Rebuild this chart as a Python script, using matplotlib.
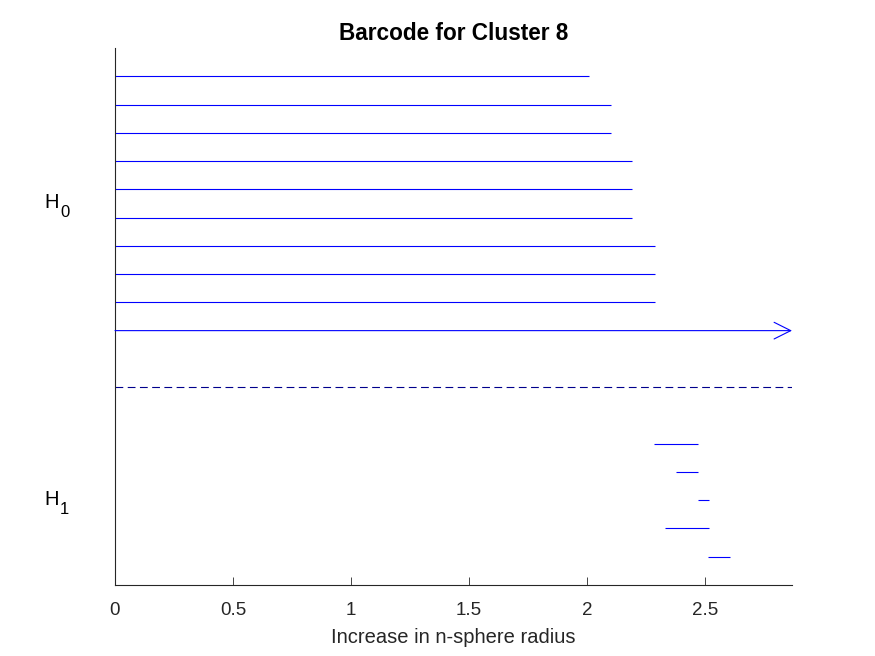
import numpy as np
import matplotlib
matplotlib.use("Agg")
import matplotlib.pyplot as plt

plt.rcParams['font.family'] = ['Liberation Sans', 'DejaVu Sans']

title = "Barcode for Cluster 8"
xlabel = "Increase in n-sphere radius"
xticks = [0, 0.5, 1, 1.5, 2, 2.5]
xticklabels = ["0", "0.5", "1", "1.5", "2", "2.5"]
x_max = 2.869

h0_birth = [0, 0, 0, 0, 0, 0, 0, 0, 0, 0]
h0_death = [2.01, 2.10, 2.10, 2.193, 2.193, 2.193, 2.287, 2.287, 2.287, np.inf]

h1_birth = [2.285, 2.377, 2.470, 2.331, 2.515]
h1_death = [2.470, 2.470, 2.517, 2.517, 2.607]

dark = (0.15, 0.15, 0.15)
fig = plt.figure(figsize=(8.75, 6.56), dpi=100)
ax = fig.add_axes([115/875, 1-585/656, (792-115)/875, (585-48)/656])

n0 = len(h0_birth)
n1 = len(h1_birth)
rows0 = np.arange(1, n0 + 1)
sep = n0 + 2
rows1 = np.arange(sep + 2, sep + 2 + n1)
ymax = rows1[-1] + 1

for b, d, r in zip(h0_birth, h0_death, rows0):
    if np.isinf(d):
        ax.annotate('', xy=(x_max, r), xytext=(b, r),
                    arrowprops=dict(arrowstyle='->', color='blue', lw=0.8,
                                    mutation_scale=30, shrinkA=0, shrinkB=0),
                    annotation_clip=False)
    else:
        ax.plot([b, d], [r, r], color='blue', lw=0.8, solid_capstyle='butt')

for b, d, r in zip(h1_birth, h1_death, rows1):
    ax.plot([b, d], [r, r], color='blue', lw=0.8, solid_capstyle='butt')

ax.plot([0, x_max], [sep, sep], color=(0, 0, 0.55), lw=0.8, ls=(0, (7, 4)))

ax.set_xlim(0, x_max)
ax.set_ylim(ymax, 0)
ax.set_xticks(xticks)
ax.set_xticklabels(xticklabels)
ax.set_yticks([])
ax.tick_params(axis='x', direction='in', length=6, colors=dark, labelsize=13.5, pad=12, width=0.6)
for s in ['top', 'right']:
    ax.spines[s].set_visible(False)
for s in ['left', 'bottom']:
    ax.spines[s].set_color(dark)
    ax.spines[s].set_linewidth(0.8)

ax.set_xlabel(xlabel, fontsize=14.5, color=dark, labelpad=7)
ax.set_title(title, fontsize=16.3, fontweight='bold', pad=5.5)

for rows, sub in [(rows0, '0'), (rows1, '1')]:
    yc = (rows[0] + rows[-1]) / 2
    ax.annotate('H', xy=(0, yc), xytext=(-45.5, 0.5), textcoords='offset points',
                fontsize=14.5, ha='center', va='center', color='black',
                annotation_clip=False)
    ax.annotate(sub, xy=(0, yc), xytext=(-36.3, -6.5), textcoords='offset points',
                fontsize=12, ha='center', va='center', color='black',
                annotation_clip=False)

fig.savefig("out.png", dpi=100)
